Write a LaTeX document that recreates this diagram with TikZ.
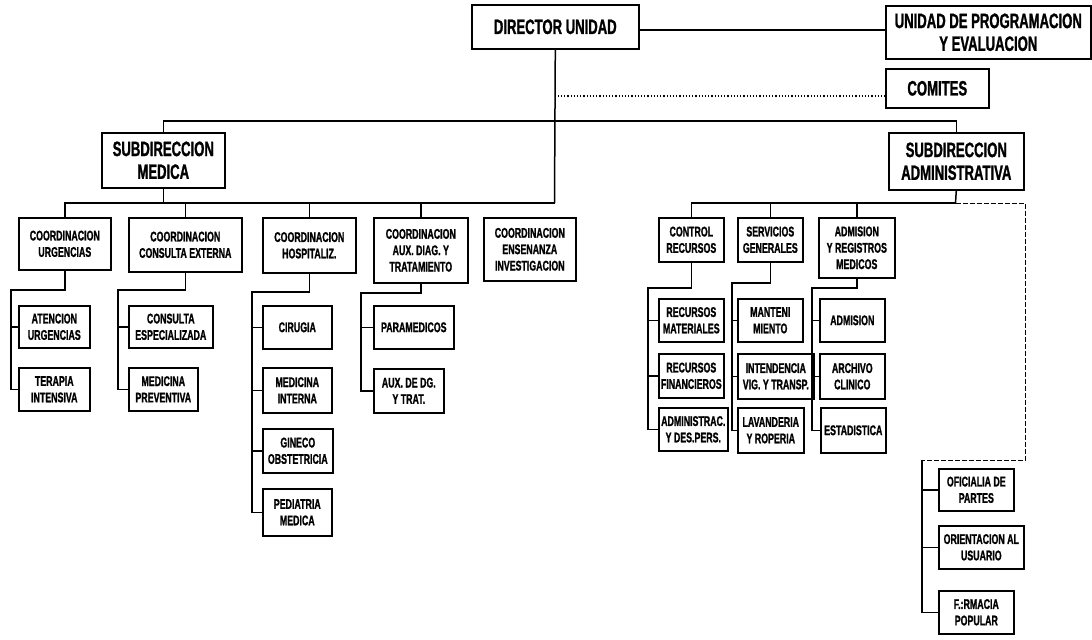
\documentclass[tikz,border=0pt]{standalone}
\usepackage{fontspec}
\setmainfont{Liberation Sans}[FakeStretch=0.63, BoldFeatures={FakeBold=1.2}]
\begin{document}
\begin{tikzpicture}[x=0.5pt,y=-0.5pt,
  bx/.style 2 args={draw, line width=0.8pt, anchor=north west, inner sep=0pt,
    minimum width=#1*0.5pt, minimum height=#2*0.5pt, align=center,
    font=\bfseries\fontsize{7}{8.2}\selectfont},
  bigbx/.style 2 args={bx={#1}{#2}, font=\bfseries\fontsize{10.4}{11.4}\selectfont},
  ln/.style={line width=0.75pt},
  dl/.style={line width=0.45pt, dash pattern=on 2.5pt off 1pt},
  dt/.style={line width=0.6pt, densely dotted}]
\useasboundingbox (0,0) rectangle (1092,639);
% top level
\node[bigbx={167}{44}] (dir) at (471,4) {DIRECTOR UNIDAD};
\node[bigbx={205}{53}] (upe) at (885,5) {UNIDAD DE PROGRAMACION\\Y EVALUACION};
\node[bigbx={103}{39}] (com) at (885,68) {COMITES};
\node[bigbx={123}{55}] (sm) at (101,132) {SUBDIRECCION\\MEDICA};
\node[bigbx={135}{57}] (sa) at (888,132) {SUBDIRECCION\\ADMINISTRATIVA};
% coordinations (left)
\node[bx={92}{52}] (cu) at (18,217) {COORDINACION\\URGENCIAS};
\node[bx={113}{54}] (cce) at (128,217) {COORDINACION\\CONSULTA EXTERNA};
\node[bx={93}{55}] (ch) at (262,217) {COORDINACION\\HOSPITALIZ.};
\node[bx={94}{65}] (cad) at (373,217) {COORDINACION\\AUX. DIAG. Y\\TRATAMIENTO};
\node[bx={92}{63}] (cei) at (483,217) {COORDINACION\\ENSENANZA\\INVESTIGACION};
% left children
\node[bx={71}{42}] (au) at (18,305) {ATENCION\\URGENCIAS};
\node[bx={71}{43}] (ti) at (18,367) {TERAPIA\\INTENSIVA};
\node[bx={84}{42}] (ces) at (128,305) {CONSULTA\\ESPECIALIZADA};
\node[bx={69}{43}] (mp) at (128,367) {MEDICINA\\PREVENTIVA};
\node[bx={69}{43}] (cir) at (262,305) {CIRUGIA};
\node[bx={69}{45}] (mi) at (262,367) {MEDICINA\\INTERNA};
\node[bx={70}{44}] (go) at (262,428) {GINECO\\OBSTETRICIA};
\node[bx={69}{47}] (pm) at (262,488) {PEDIATRIA\\MEDICA};
\node[bx={80}{43}] (par) at (373,305) {PARAMEDICOS};
\node[bx={70}{44}] (adt) at (373,368) {AUX. DE DG.\\Y TRAT.};
% right level
\node[bx={65}{44}] (cr) at (658,217) {CONTROL\\RECURSOS};
\node[bx={65}{44}] (sg) at (737,217) {SERVICIOS\\GENERALES};
\node[bx={76}{60}] (arm) at (818,217) {ADMISION\\Y REGISTROS\\MEDICOS};
\node[bx={65}{43}] (rm) at (658,298) {RECURSOS\\MATERIALES};
\node[bx={65}{44}] (rf) at (658,353) {RECURSOS\\FINANCIEROS};
\node[bx={69}{43}] (ad) at (658,407) {ADMINISTRAC.\\Y DES.PERS.};
\node[bx={65}{43}] (mant) at (737,298) {MANTENI\\MIENTO};
\node[bx={76}{45}] (int) at (737,353) {INTENDENCIA\\VIG. Y TRANSP.};
\node[bx={66}{45}] (lav) at (737,407) {LAVANDERIA\\Y ROPERIA};
\node[bx={65}{43}] (adm) at (819,298) {ADMISION};
\node[bx={65}{45}] (ac) at (819,353) {ARCHIVO\\CLINICO};
\node[bx={65}{45}] (est) at (820,407) {ESTADISTICA};
\node[bx={75}{42}] (of) at (938,468) {OFICIALIA DE\\PARTES};
\node[bx={85}{43}] (ou) at (938,525) {ORIENTACION AL\\USUARIO};
\node[bx={75}{43}] (fp) at (938,590) {F.:RMACIA\\POPULAR};
% connectors top
\coordinate (lb) at (554.5,203);
\coordinate (dc) at (554.5,96);
\coordinate (mb) at (554.5,121);
\coordinate (de) at (638,30);
\draw[ln] (de) -- (de -| upe.west);
\draw[ln] (dir.south) -- (lb);
\draw[dt] (dc) -- (dc -| com.west);
\draw[ln] (sm.north) |- (mb) -| (sa.north);
% left bus
\draw[ln] (sm.south) -- (sm.south |- lb);
\draw[ln] (cu.north) |- (lb);
\foreach \n in {cce,ch,cad} \draw[ln] (\n.north) -- (\n.north |- lb);
% left children
\coordinate (su) at (11,290);
\draw[ln] (cu.south) |- (su) |- (ti.west);
\draw[ln] (su |- au.west) -- (au.west);
\coordinate (sce) at (118,290);
\draw[ln] (cce.south) |- (sce) |- (mp.west);
\draw[ln] (sce |- ces.west) -- (ces.west);
\coordinate (sh) at (252,292);
\draw[ln] (ch.south) |- (sh) |- (pm.west);
\foreach \n in {cir,mi,go} \draw[ln] (sh |- \n.west) -- (\n.west);
\coordinate (sx) at (361,293);
\draw[ln] (cad.south) |- (sx) |- (adt.west);
\draw[ln] (sx |- par.west) -- (par.west);
% right bus
\coordinate (sab) at (955.5,203);
\coordinate (rb) at (1025,203);
\coordinate (rc) at (1025,460);
\coordinate (so) at (922,460);
\draw[ln] (cr.north) |- (sab);
\draw[ln] (sa.south) -- (sab);
\draw[ln] (sg.north) -- (sg.north |- sab);
\draw[ln] (arm.north) -- (arm.north |- sab);
\draw[dl] (sab) -- (rb) -- (rc) -- (so);
\draw[ln] (so) |- (fp.west);
\draw[ln] (so |- of.west) -- (of.west);
\draw[ln] (so |- ou.west) -- (ou.west);
% right children
\coordinate (scr) at (648,288);
\draw[ln] (cr.south) |- (scr) |- (ad.west);
\draw[ln] (scr |- rm.west) -- (rm.west);
\draw[ln] (scr |- rf.west) -- (rf.west);
\coordinate (ssg) at (732,283);
\draw[ln] (sg.south) |- (ssg) |- (lav.west);
\draw[ln] (ssg |- mant.west) -- (mant.west);
\draw[ln] (ssg |- int.west) -- (int.west);
\coordinate (sar) at (812,288);
\draw[ln] (arm.south) |- (sar) |- (est.west);
\draw[ln] (sar |- adm.west) -- (adm.west);
\draw[ln] (sar |- ac.west) -- (ac.west);
\end{tikzpicture}
\end{document}
